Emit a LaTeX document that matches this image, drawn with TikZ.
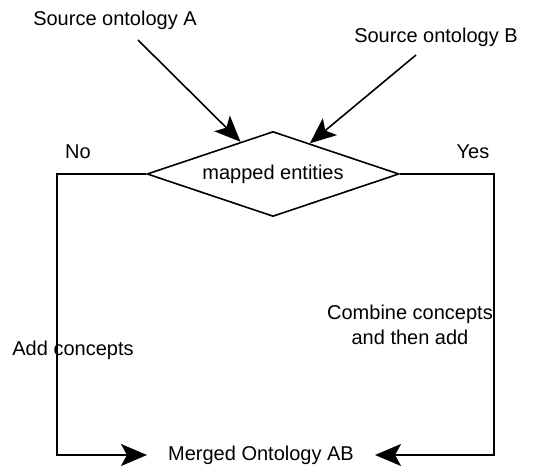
\documentclass[tikz,border=0pt]{standalone}
\usepackage{fontspec}
\setmainfont{Liberation Sans}
\usetikzlibrary{arrows.meta,shapes.geometric}
\tikzset{
  lbl/.style={font=\fontsize{20bp}{25bp}\selectfont,align=center,inner sep=0pt},
  decide/.style={draw,diamond,aspect=2.96,inner sep=0pt,minimum width=252bp,minimum height=85bp,line width=1.6bp,font=\fontsize{20bp}{25bp}\selectfont},
  flow/.style={line width=1.6bp,-{Stealth[length=26bp,width=22bp,inset=6bp]}},
}

\begin{document}
\begin{tikzpicture}[x=1bp,y=-1bp,line cap=butt,line join=miter]
\useasboundingbox (0,0) rectangle (550,470);

% Sources
\node[lbl] (srcA) at (115,20) {Source ontology A};
\node[lbl] (srcB) at (436,37) {Source ontology B};
\coordinate (a0) at (138,40);
\coordinate (b0) at (416,55);

% Decision
\node[decide] (dm) at (273,174) {mapped entities};
\draw[flow] (a0) -- (dm);
\draw[flow] (b0) -- (dm);

% Branch labels
\node[lbl] (no) at (78,152) {No};
\node[lbl] (yes) at (473,152) {Yes};

% Result
\node[lbl,inner xsep=21bp] (merged) at (261,455) {Merged Ontology AB};
\coordinate (nL) at (57,174);
\coordinate (nR) at (494,174);
\draw[flow] (dm.west) -- (nL) |- (merged.west);
\draw[flow] (dm.east) -- (nR) |- (merged.east);

% Edge texts
\node[lbl] (add) at (73,350) {Add concepts};
\node[lbl] (comb) at (410,325) {Combine concepts\\and then add};

\end{tikzpicture}
\end{document}
